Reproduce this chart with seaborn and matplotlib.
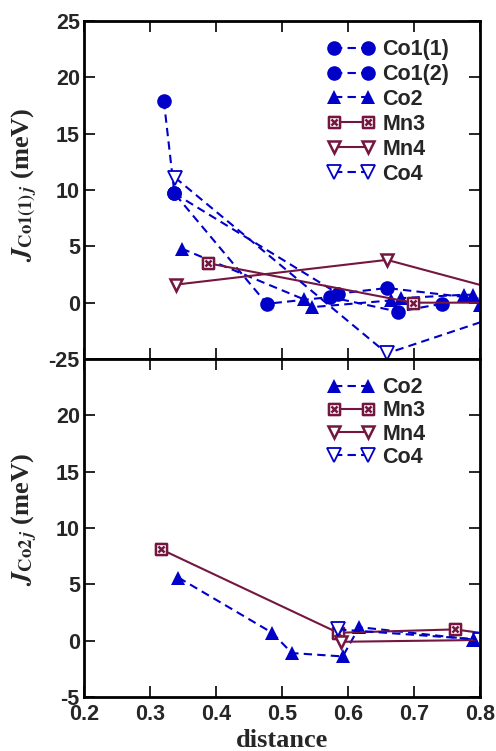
import matplotlib
matplotlib.use('Agg')
import matplotlib.pyplot as plt
import seaborn as sns
from matplotlib.path import Path

sns.set_style('ticks')
plt.rcParams['font.family'] = ['Liberation Sans', 'DejaVu Sans']
plt.rcParams['font.weight'] = 'bold'
plt.rcParams['mathtext.fontset'] = 'stix'

BLUE = '#0000c8'
MAROON = '#74163f'

# ---------------- data: top panel (neighbours of Co1(1)) ----------------
top_co11_x = [0.321, 0.337, 0.477, 0.573, 0.676, 0.742]
top_co11_y = [17.9, 9.7, -0.1, 0.5, -0.8, -0.1]
top_co12_x = [0.337, 0.585, 0.659, 0.85]
top_co12_y = [9.7, 0.8, 1.3, 0.0]
top_co2_x = [0.348, 0.533, 0.545, 0.665, 0.68, 0.775, 0.79, 0.80]
top_co2_y = [4.8, 0.3, -0.4, 0.2, 0.4, 0.7, 0.7, -0.2]
top_mn3_x = [0.388, 0.698, 0.85]
top_mn3_y = [3.5, 0.0, 0.0]
top_mn4_x = [0.339, 0.659, 0.90]
top_mn4_y = [1.6, 3.8, 0.0]
top_co4_x = [0.338, 0.659, 0.90]
top_co4_y = [11.1, -4.5, 0.2]

# ---------------- data: bottom panel (neighbours of Co2) ----------------
bot_co2_x = [0.343, 0.485, 0.515, 0.592, 0.617, 0.79, 0.85]
bot_co2_y = [5.6, 0.7, -1.1, -1.4, 1.2, 0.1, -0.3]
bot_mn3_x = [0.317, 0.585, 0.762, 0.85]
bot_mn3_y = [8.1, 0.7, 1.0, 0.3]
bot_mn4_x = [0.59, 0.85]
bot_mn4_y = [-0.1, 0.1]
bot_co4_x = [0.585, 0.80, 0.85]
bot_co4_y = [1.0, 0.1, -0.1]

x_ticks = [0.2, 0.3, 0.4, 0.5, 0.6, 0.7, 0.8]
x_ticklabels = ['0.2', '0.3', '0.4', '0.5', '0.6', '0.7', '0.8']
y_ticks = [-5, 0, 5, 10, 15, 20, 25]
top_yticklabels = ['-25', '0', '5', '10', '15', '20', '25']
bot_yticklabels = ['-5', '0', '5', '10', '15', '20', '']

# custom "boxed x" marker for Mn3
box_x = Path([(-1, -1), (1, -1), (1, 1), (-1, 1), (-1, -1),
              (-0.55, -0.55), (0.55, 0.55), (-0.55, 0.55), (0.55, -0.55)],
             [Path.MOVETO, Path.LINETO, Path.LINETO, Path.LINETO, Path.CLOSEPOLY,
              Path.MOVETO, Path.LINETO, Path.MOVETO, Path.LINETO])

DASH = (0, (4, 2.5))
STYLES = {
    'Co1': dict(color=BLUE, linestyle=DASH, marker='o', markerfacecolor=BLUE, markersize=10.5, markeredgewidth=0),
    'Co2': dict(color=BLUE, linestyle=DASH, marker='^', markerfacecolor=BLUE, markersize=10.5, markeredgewidth=0),
    'Mn3': dict(color=MAROON, linestyle='-', marker=box_x, markerfacecolor='white', markersize=8, markeredgewidth=1.8),
    'Mn4': dict(color=MAROON, linestyle='-', marker='v', markerfacecolor='white', markersize=9, markeredgewidth=1.8),
    'Co4': dict(color=BLUE, linestyle=DASH, marker='v', markerfacecolor='white', markersize=10, markeredgewidth=1.3),
}

FS = 15.5

fig = plt.figure(figsize=(4.96, 7.51), dpi=100)
W, H = 496.0, 751.0
ax_top = fig.add_axes([84 / W, 1 - 359 / H, 396 / W, 338 / H])
ax_bot = fig.add_axes([84 / W, 1 - 697 / H, 396 / W, 338 / H])


def draw(ax, x, y, key, label):
    st = dict(STYLES[key])
    color = st.pop('color')
    sns.lineplot(x=x, y=y, ax=ax, color=color, markeredgecolor=color,
                 linewidth=1.5, sort=False, estimator=None, **st)
    line = ax.lines[-1]
    line.set_label(label)
    return line


h_top = [
    draw(ax_top, top_co11_x, top_co11_y, 'Co1', 'Co1(1)'),
    draw(ax_top, top_co12_x, top_co12_y, 'Co1', 'Co1(2)'),
    draw(ax_top, top_co2_x, top_co2_y, 'Co2', 'Co2'),
    draw(ax_top, top_mn3_x, top_mn3_y, 'Mn3', 'Mn3'),
    draw(ax_top, top_mn4_x, top_mn4_y, 'Mn4', 'Mn4'),
    draw(ax_top, top_co4_x, top_co4_y, 'Co4', 'Co4'),
]
h_bot = [
    draw(ax_bot, bot_co2_x, bot_co2_y, 'Co2', 'Co2'),
    draw(ax_bot, bot_mn3_x, bot_mn3_y, 'Mn3', 'Mn3'),
    draw(ax_bot, bot_mn4_x, bot_mn4_y, 'Mn4', 'Mn4'),
    draw(ax_bot, bot_co4_x, bot_co4_y, 'Co4', 'Co4'),
]

for ax, ylabs in ((ax_top, top_yticklabels), (ax_bot, bot_yticklabels)):
    ax.set_xlim(0.2, 0.8)
    ax.set_ylim(-5, 25)
    ax.set_xticks(x_ticks)
    ax.set_yticks(y_ticks)
    ax.set_yticklabels(ylabs)
    ax.tick_params(direction='in', length=8, width=1.4, top=True, right=True,
                   labelsize=FS, pad=3)
    for sp in ax.spines.values():
        sp.set_linewidth(2)
        sp.set_color('black')
    for t in ax.get_yticklabels() + ax.get_xticklabels():
        t.set_fontweight('bold')
    ax.set_xlabel('')
    ax.set_ylabel('')

ax_top.set_xticklabels([])
ax_bot.set_xticklabels(x_ticklabels)
ax_bot.tick_params(axis='x', pad=5)

lab_font = dict(family=['Liberation Serif', 'DejaVu Serif'], fontweight='bold', fontsize=19)
ax_top.set_ylabel(r'$\mathbfit{J}_{\mathbf{Co1(1)}\,\mathbfit{j}}$ (meV)', va='center', ha='center', **lab_font)
ax_bot.set_ylabel(r'$\mathbfit{J}_{\mathbf{Co2}\,\mathbfit{j}}$ (meV)', va='center', ha='center', **lab_font)
ax_top.yaxis.set_label_coords(-0.148, 0.515)
ax_bot.yaxis.set_label_coords(-0.148, 0.524)
ax_bot.set_xlabel('distance', va='center', ha='center', **lab_font)
ax_bot.xaxis.set_label_coords(0.5, -0.13)

leg_kw = dict(frameon=False, numpoints=2, handlelength=2.2, handletextpad=0.35,
              borderpad=0, borderaxespad=0,
              prop=dict(family='Liberation Sans', weight='bold', size=FS), loc='upper left')
ax_top.legend(handles=h_top, bbox_to_anchor=(0.615, 0.946), labelspacing=0.18, **leg_kw)
ax_bot.legend(handles=h_bot, bbox_to_anchor=(0.615, 0.946), labelspacing=0.1, **leg_kw)

fig.savefig('out.png', dpi=100)
